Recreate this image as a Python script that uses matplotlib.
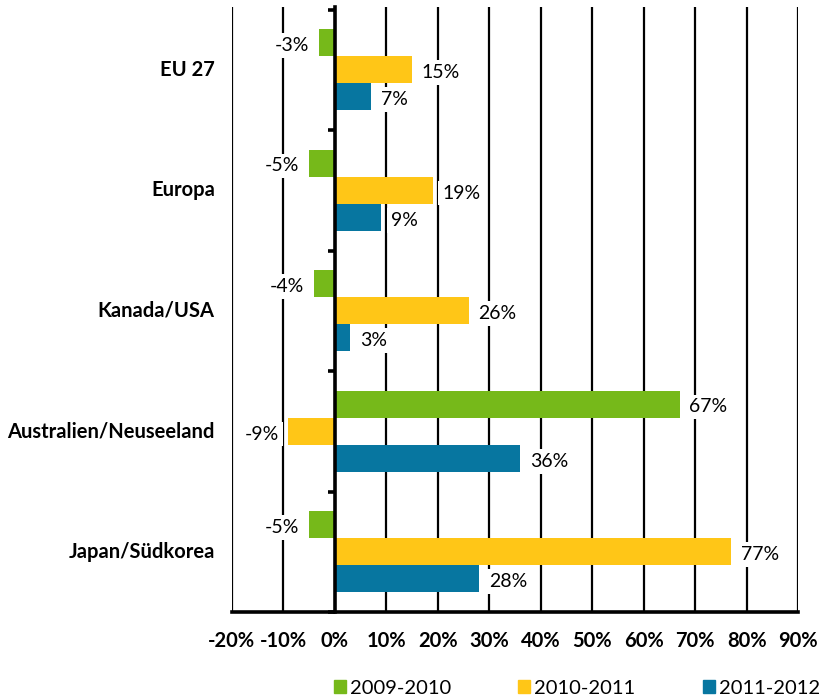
import numpy as np
import matplotlib.pyplot as plt
from matplotlib.patches import Patch

plt.rcParams['font.family'] = ['Lato', 'DejaVu Sans']

# data
regions = ['EU 27', 'Europa', 'Kanada/USA', 'Australien/Neuseeland', 'Japan/Südkorea']
periods = ['2009-2010', '2010-2011', '2011-2012']
v_2009_2010 = [-3, -5, -4, 67, -5]
v_2010_2011 = [15, 19, 26, -9, 77]
v_2011_2012 = [7, 9, 3, 36, 28]
x_ticks = list(range(-20, 100, 10))

colors = ['#76B91A', '#FFC617', '#0776A0']
series = [v_2009_2010, v_2010_2011, v_2011_2012]

fig = plt.figure(figsize=(8.22, 6.96), dpi=100)
ax = fig.add_axes([0.282, 0.1207, 0.689, 0.869])

y = np.arange(len(regions))
h = 0.225
offsets = [-h, 0, h]

# grid lines behind bars
for xt in x_ticks:
    if xt != 0:
        ax.axvline(xt, color='black', lw=1.6, zorder=0)

for vals, col, off in zip(series, colors, offsets):
    bars = ax.barh(y + off, vals, height=h, color=col, zorder=2)
    for b, v in zip(bars, vals):
        yc = b.get_y() + b.get_height() / 2
        if v >= 0:
            ax.annotate(f'{v}%', (v, yc), xytext=(7, -2), textcoords='offset points',
                        ha='left', va='center', fontsize=14, zorder=4,
                        bbox=dict(boxstyle='square,pad=0.2', fc='white', ec='none'))
        else:
            ax.annotate(f'{v}%', (v, yc), xytext=(-7, -2), textcoords='offset points',
                        ha='right', va='center', fontsize=14, zorder=4,
                        bbox=dict(boxstyle='square,pad=0.2', fc='white', ec='none'))

ax.set_xlim(-20, 90)
ax.set_ylim(len(regions) - 0.5, -0.52)

# zero line acts as the category axis
for s in ['top', 'right']:
    ax.spines[s].set_visible(False)
ax.spines['left'].set_position(('data', 0))
ax.spines['left'].set_linewidth(2.6)
ax.spines['left'].set_zorder(3)
ax.spines['bottom'].set_linewidth(2.6)

ax.set_yticks(y)
ax.set_yticklabels([])
ax.tick_params(axis='y', which='major', length=0)
ax.set_yticks(np.arange(-0.5, len(regions), 1), minor=True)
ax.tick_params(axis='y', which='minor', length=5, width=2.6, direction='out')

ax.set_xticks(x_ticks)
ax.set_xticklabels([f'{t}%' for t in x_ticks], fontweight='bold', fontsize=14.5)
ax.tick_params(axis='x', length=0, pad=14)

for yi, name in zip(y, regions):
    ax.text(-0.03, yi, name, transform=ax.get_yaxis_transform(), ha='right', va='center',
            fontsize=14.5, fontweight='bold')

handles = [Patch(color=c) for c in colors]
fig.legend(handles, periods, loc='lower right', bbox_to_anchor=(1.02, -0.027), ncol=3,
           frameon=False, fontsize=14.5, handlelength=0.6, handleheight=0.6,
           handletextpad=0.2, columnspacing=3.35)

fig.savefig('out.png', dpi=100)
